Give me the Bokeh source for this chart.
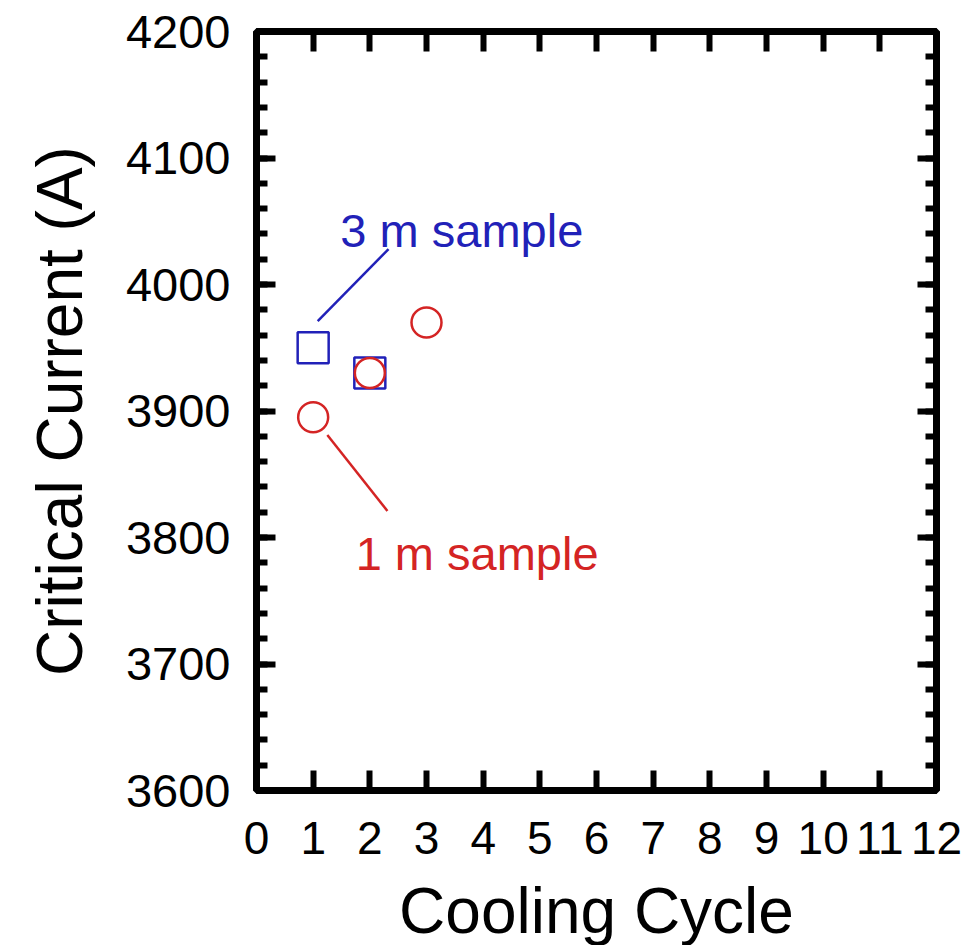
from bokeh.plotting import figure
from bokeh.models import LinearAxis, SingleIntervalTicker, Range1d, CustomJSTickFormatter
from bokeh.core.properties import value
from bokeh.embed import file_html
from bokeh.resources import INLINE

# Data
cycle_3m = [1, 2]
ic_3m = [3950, 3930]
cycle_1m = [1, 2, 3]
ic_1m = [3895, 3930, 3970]

label_3m = "3 m sample"
label_1m = "1 m sample"
# annotation anchors in data coordinates
lead_3m_x = [1.08, 2.33]
lead_3m_y = [3971, 4028]
lead_1m_x = [1.25, 2.31]
lead_1m_y = [3881, 3821]
text_3m_x = [1.48]
text_3m_y = [4043]
text_1m_x = [1.75]
text_1m_y = [3787]

BLUE = "#2121b8"
RED = "#d42424"
FONT = "Liberation Sans"

p = figure(width=966, height=945, output_backend="svg", toolbar_location=None,
           x_range=Range1d(0, 12), y_range=Range1d(3600, 4200),
           x_axis_location=None, y_axis_location=None,
           min_border_left=256, min_border_right=30, min_border_top=31, min_border_bottom=155,
           frame_width=680, frame_height=759)
p.grid.visible = False
p.outline_line_color = "black"
p.outline_line_width = 7
p.background_fill_color = "white"
p.border_fill_color = "white"


def style_axis(ax, show_labels, minor, major_in, minor_in, label_size="47px", standoff=22):
    ax.axis_line_color = None
    ax.major_tick_out = 0
    ax.major_tick_in = major_in
    ax.minor_tick_out = 0
    ax.minor_tick_in = minor_in
    ax.major_tick_line_width = 6
    ax.minor_tick_line_width = 6
    ax.major_tick_line_color = "black"
    ax.minor_tick_line_color = "black" if minor else None
    ax.major_label_text_font = FONT
    ax.major_label_text_color = "black"
    if show_labels:
        ax.major_label_text_font_size = label_size
        ax.major_label_standoff = standoff
    else:
        ax.formatter = CustomJSTickFormatter(code="return ''")
        ax.major_label_text_font_size = "1px"
        ax.major_label_text_color = None
        ax.major_label_standoff = 0


xb = LinearAxis(ticker=SingleIntervalTicker(interval=1, num_minor_ticks=0), axis_label="Cooling Cycle")
style_axis(xb, True, False, 20, 0, label_size="46px", standoff=31)
xb.axis_label_text_font = FONT
xb.axis_label_text_font_size = "64px"
xb.axis_label_text_font_style = "normal"
xb.axis_label_text_color = "black"
xb.axis_label_standoff = 18
p.add_layout(xb, "below")

xa = LinearAxis(ticker=SingleIntervalTicker(interval=1, num_minor_ticks=0))
style_axis(xa, False, False, 20, 0)
p.add_layout(xa, "above")

yl = LinearAxis(ticker=SingleIntervalTicker(interval=100, num_minor_ticks=5), axis_label="Critical Current (A)")
style_axis(yl, True, True, 19, 11, label_size="47px", standoff=26)
yl.axis_label_text_font = FONT
yl.axis_label_text_font_size = "64px"
yl.axis_label_text_font_style = "normal"
yl.axis_label_text_color = "black"
yl.axis_label_standoff = 27
p.add_layout(yl, "left")

yr = LinearAxis(ticker=SingleIntervalTicker(interval=100, num_minor_ticks=5))
style_axis(yr, False, True, 19, 11)
p.add_layout(yr, "right")

# leader lines
p.line(lead_3m_x, lead_3m_y, line_color=BLUE, line_width=2.5)
p.line(lead_1m_x, lead_1m_y, line_color=RED, line_width=2.5)

# markers
p.scatter(cycle_3m, ic_3m, marker="square", size=31, fill_color=None,
          line_color=BLUE, line_width=2.5)
p.scatter(cycle_1m, ic_1m, marker="circle", size=30, fill_color=None,
          line_color=RED, line_width=2.5)

# annotation texts
p.text(x=text_3m_x, y=text_3m_y, text=[label_3m], text_color=BLUE,
       text_font=value(FONT), text_font_size="47px",
       text_align="left", text_baseline="alphabetic")
p.text(x=text_1m_x, y=text_1m_y, text=[label_1m], text_color=RED,
       text_font=value(FONT), text_font_size="47px",
       text_align="left", text_baseline="alphabetic")

open("out.html", "w").write(file_html(p, INLINE))
